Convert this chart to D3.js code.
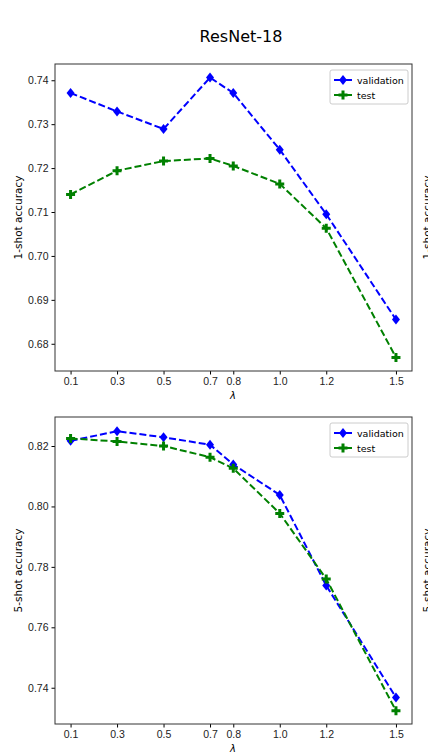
<!DOCTYPE html>
<html><head><meta charset="utf-8">
<script src="https://cdn.jsdelivr.net/npm/d3@7"></script>
<style>body{margin:0;background:#fff}svg{font-family:"DejaVu Sans",sans-serif}</style>
</head><body><div id="chart"></div>
<script>
// data
const lambdas = [0.1, 0.3, 0.5, 0.7, 0.8, 1.0, 1.2, 1.5]
const val1 = [0.7371, 0.7329, 0.7289, 0.7406, 0.7371, 0.7242, 0.7095, 0.6855]
const test1 = [0.7140, 0.7194, 0.7216, 0.7222, 0.7205, 0.7164, 0.7063, 0.6769]
const val5 = [0.8217, 0.8249, 0.8229, 0.8204, 0.8139, 0.8038, 0.7738, 0.7368]
const test5 = [0.8225, 0.8215, 0.8200, 0.8163, 0.8126, 0.7977, 0.7760, 0.7324]
const ticks1 = [0.68, 0.69, 0.70, 0.71, 0.72, 0.73, 0.74]
const ticks5 = [0.74, 0.76, 0.78, 0.80, 0.82]

const svg = d3.select("#chart").append("svg").attr("width", 428).attr("height", 754)

svg.append("text").attr("x", 241).attr("y", 42).attr("text-anchor", "middle")
    .attr("font-size", 16).text("ResNet-18")

const x = d3.scaleLinear().domain([0.033, 1.569]).range([55, 412])

function panel(top, bottom, ydom, yticks, val, test, ylabel) {
    const y = d3.scaleLinear().domain(ydom).range([bottom, top])
    const g = svg.append("g")
    g.append("g").attr("transform", `translate(0,${bottom})`)
        .call(d3.axisBottom(x).tickValues(lambdas).tickFormat(d3.format(".1f")).tickSize(3.5).tickPadding(3))
        .call(a => a.select(".domain").remove())
    g.append("g").attr("transform", "translate(55,0)")
        .call(d3.axisLeft(y).tickValues(yticks).tickFormat(d3.format(".2f")).tickSize(3.5).tickPadding(3))
        .call(a => a.select(".domain").remove())
    g.selectAll(".tick text").attr("font-size", 10.5).attr("fill", "#222")
    g.append("rect").attr("x", 55).attr("y", top).attr("width", 357).attr("height", bottom - top)
        .attr("fill", "none").attr("stroke", "#333").attr("stroke-width", 1)
    g.append("text").attr("x", 233).attr("y", bottom + 28).attr("text-anchor", "middle")
        .attr("font-size", 10).attr("font-style", "italic").text("λ")
    g.append("text").attr("transform", `translate(22,${(top + bottom) / 2}) rotate(-90)`)
        .attr("text-anchor", "middle").attr("font-size", 10.5).text(ylabel)
    // label of the neighbouring subplot, cut by the page edge as in the reference
    g.append("text").attr("transform", `translate(431,${(top + bottom) / 2}) rotate(-90)`)
        .attr("text-anchor", "middle").attr("font-size", 10.5).text(ylabel)

    const line = d3.line().x((d, i) => x(lambdas[i])).y(d => y(d))
    const series = [{v: val, c: "blue", m: "D", name: "validation"}, {v: test, c: "green", m: "P", name: "test"}]
    const diamond = "M0,-5L4,0L0,5L-4,0Z"
    const plus = "M-1.5,-4.5H1.5V-1.5H4.5V1.5H1.5V4.5H-1.5V1.5H-4.5V-1.5H-1.5Z"
    series.forEach(s => {
        g.append("path").attr("d", line(s.v)).attr("fill", "none").attr("stroke", s.c)
            .attr("stroke-width", 2).attr("stroke-dasharray", "7,3")
        g.selectAll(null).data(s.v).join("path")
            .attr("transform", (d, i) => `translate(${x(lambdas[i])},${y(d)})`)
            .attr("d", s.m == "D" ? diamond : plus).attr("fill", s.c)
    })
    // legend
    const lg = g.append("g").attr("transform", `translate(330,${top + 6})`)
    lg.append("rect").attr("width", 78).attr("height", 34).attr("rx", 2).attr("fill", "#fff")
        .attr("stroke", "#ccc")
    series.forEach((s, i) => {
        const yy = 10 + i * 15
        lg.append("line").attr("x1", 4).attr("x2", 22).attr("y1", yy).attr("y2", yy)
            .attr("stroke", s.c).attr("stroke-width", 2)
        lg.append("path").attr("transform", `translate(13,${yy})`).attr("d", s.m == "D" ? diamond : plus).attr("fill", s.c)
        lg.append("text").attr("x", 27).attr("y", yy + 3.5).attr("font-size", 9.5).text(s.name)
    })
}

panel(64, 371, [0.6738, 0.7437], ticks1, val1, test1, "1-shot accuracy")
panel(417, 724, [0.728, 0.8296], ticks5, val5, test5, "5-shot accuracy")
</script></body></html>
